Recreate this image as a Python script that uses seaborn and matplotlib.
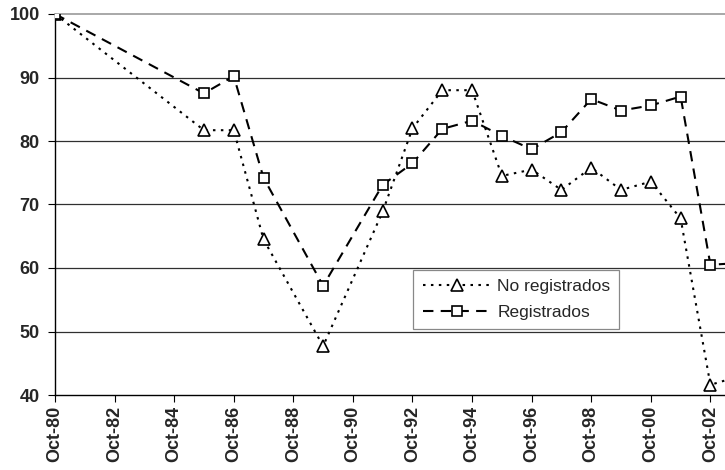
import matplotlib
matplotlib.use("Agg")
import matplotlib.pyplot as plt
import seaborn as sns
import pandas as pd

sns.set_theme(style="white")
plt.rcParams["font.family"] = ["Liberation Sans", "DejaVu Sans"]

# Index of real wages (Oct-80 = 100)
years = [1980, 1985, 1986, 1987, 1989, 1991, 1992, 1993, 1994, 1995,
         1996, 1997, 1998, 1999, 2000, 2001, 2002, 2003]
no_registrados = [100, 81.7, 81.7, 64.5, 47.7, 68.9, 82.0, 88.0, 88.0, 74.5,
                  75.5, 72.3, 75.8, 72.3, 73.6, 67.8, 41.6, 43.0]
registrados = [100, 87.5, 90.2, 74.2, 57.2, 73.1, 76.5, 81.9, 83.2, 80.8,
               78.7, 81.4, 86.6, 84.8, 85.6, 87.0, 60.5, 60.8]

tick_years = list(range(1980, 2003, 2))
tick_labels = [f"Oct-{y % 100:02d}" for y in tick_years]
y_ticks = [40, 50, 60, 70, 80, 90, 100]

df = pd.DataFrame({"year": years,
                   "No registrados": no_registrados,
                   "Registrados": registrados})

fig = plt.figure(figsize=(7.25, 4.70), dpi=100)
ax = fig.add_axes([55 / 725, 75 / 470, 715 / 725, 381 / 470])

# horizontal reference lines
for v in y_ticks[1:-1]:
    ax.axhline(v, color="#303030", lw=0.9, zorder=1)

sns.lineplot(data=df, x="year", y="No registrados", ax=ax, color="black",
             lw=1.5, linestyle=(0, (1.2, 2.6)), marker="^", markersize=8,
             markerfacecolor="white", markeredgecolor="black",
             markeredgewidth=1.2, label="No registrados", zorder=3)
sns.lineplot(data=df, x="year", y="Registrados", ax=ax, color="black",
             lw=1.5, linestyle=(0, (5, 3.5)), marker="s", markersize=7.5,
             markerfacecolor="white", markeredgecolor="black",
             markeredgewidth=1.2, label="Registrados", zorder=3)

ax.set_xlim(1980, 2004)
ax.set_ylim(40, 100)
ax.set_xticks(tick_years)
ax.set_xticklabels(tick_labels, rotation=90, fontsize=13, fontweight="bold")
ax.set_yticks(y_ticks)
ax.set_yticklabels([str(v) for v in y_ticks], fontsize=13, fontweight="bold")
ax.set_xlabel("")
ax.set_ylabel("")

for side in ["left", "bottom"]:
    ax.spines[side].set_color("black")
    ax.spines[side].set_linewidth(1.0)
ax.spines["top"].set_color("#999999")
ax.spines["top"].set_linewidth(1.2)
ax.spines["right"].set_visible(False)

ax.tick_params(axis="x", which="both", bottom=True, direction="out",
               length=5, width=0.8, color="black", pad=3)
ax.tick_params(axis="y", which="both", left=True, direction="out",
               length=5, width=0.8, color="black", pad=6)

leg = ax.legend(loc="center", bbox_to_anchor=(413 / 725, 139 / 470, 206 / 725, 63 / 470),
                bbox_transform=fig.transFigure, mode="expand", borderaxespad=0,
                fontsize=12.5, handlelength=4.0, handletextpad=0.3,
                labelspacing=0.6, borderpad=0.55, fancybox=False,
                framealpha=1, edgecolor="#888888")
leg.get_frame().set_linewidth(0.9)
leg.set_zorder(5)

fig.savefig("out.png", dpi=100)
